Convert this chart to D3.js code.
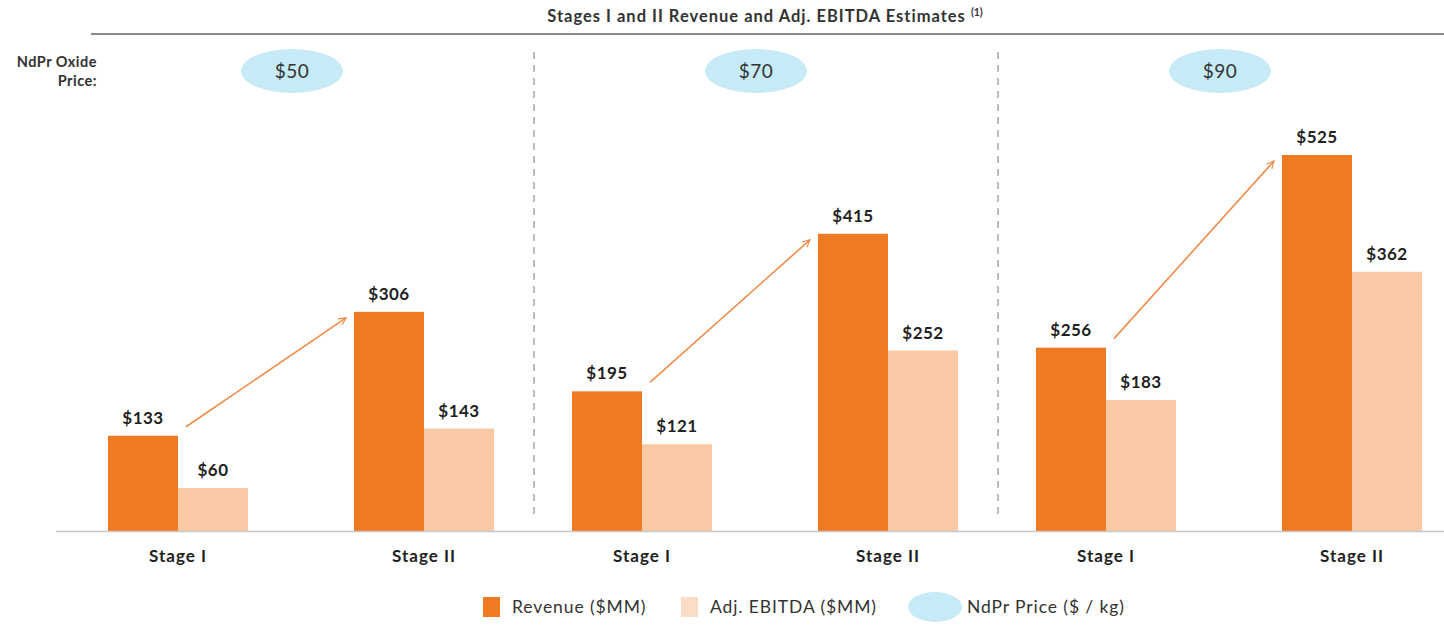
<!DOCTYPE html>
<html>
<head>
<meta charset="utf-8">
<script src="https://cdn.jsdelivr.net/npm/d3@7"></script>
<style>
    body { margin: 0; background: #fff; }
    svg { font-family: "Lato", "Open Sans", sans-serif; }
</style>
</head>
<body>
<svg width="1444" height="626"></svg>
<script>
// data
var prices = ["$50", "$70", "$90"];
var stages = ["Stage I", "Stage II"];
var series = ["Revenue ($MM)", "Adj. EBITDA ($MM)"];
var revenue = [133, 306, 195, 415, 256, 525];
var ebitda = [60, 143, 121, 252, 183, 362];

window.onload = main;

function main() {
    var svg = d3.select("svg");
    var colors = ["#f07a22", "#f9c8a4"];
    var ellipseColor = "#c6ebf6";
    var arrowColor = "#ef8c4a";

    var rows = [];
    prices.forEach(function (p, i) {
        stages.forEach(function (s, j) {
            rows.push({ price: p, stage: s, values: [revenue[i * 2 + j], ebitda[i * 2 + j]] });
        });
    });

    // scales
    var xPanel = d3.scaleBand().domain(prices).range([70, 1462]);
    var xStage = d3.scalePoint().domain(stages).range([108, 354]);
    var xSeries = d3.scaleBand().domain(series).range([-70, 70]);
    var y = d3.scaleLinear().domain([0, 525]).range([531, 155]);

    // title
    var title = svg.append("text")
        .attr("x", 765).attr("y", 22)
        .attr("text-anchor", "middle")
        .attr("font-size", 16.5).attr("font-weight", "bold")
        .attr("letter-spacing", 1)
        .attr("fill", "#333")
        .text("Stages I and II Revenue and Adj. EBITDA Estimates ");
    title.append("tspan")
        .attr("font-size", 10.5).attr("dy", -6)
        .attr("letter-spacing", 0)
        .text("(1)");

    svg.append("line")
        .attr("x1", 91).attr("x2", 1444)
        .attr("y1", 34).attr("y2", 34)
        .attr("stroke", "#8a8a8a").attr("stroke-width", 2);

    // price label
    svg.append("text")
        .attr("x", 97).attr("y", 67)
        .attr("text-anchor", "end")
        .attr("font-size", 14.5).attr("font-weight", "bold").attr("fill", "#333")
        .attr("letter-spacing", 0.5)
        .text("NdPr Oxide")
        .append("tspan")
        .attr("x", 97).attr("dy", "1.3em")
        .text("Price:");

    // dividers
    prices.slice(1).forEach(function (p) {
        svg.append("line")
            .attr("x1", xPanel(p)).attr("x2", xPanel(p))
            .attr("y1", 52).attr("y2", 520)
            .attr("stroke", "#9a9a9a").attr("stroke-width", 1.3)
            .attr("stroke-dasharray", "7,6");
    });

    // price ellipses
    var ell = svg.selectAll("g.price").data(prices).enter()
        .append("g").attr("class", "price")
        .attr("transform", function (d) {
            return "translate(" + (xPanel(d) + 222) + ",71)";
        });
    ell.append("ellipse").attr("rx", 51).attr("ry", 22).attr("fill", ellipseColor);
    ell.append("text")
        .attr("text-anchor", "middle").attr("dy", "0.36em")
        .attr("font-size", 19).attr("letter-spacing", 0.5).attr("fill", "#333")
        .text(function (d) { return d; });

    // arrows
    svg.append("defs").append("marker")
        .attr("id", "arrow")
        .attr("viewBox", "0 0 10 10")
        .attr("refX", 9).attr("refY", 5)
        .attr("markerWidth", 9).attr("markerHeight", 9)
        .attr("markerUnits", "userSpaceOnUse")
        .attr("orient", "auto")
        .append("path")
        .attr("d", "M1,1 L9,5 L1,9")
        .attr("fill", "none").attr("stroke", arrowColor).attr("stroke-width", 1.3);

    prices.forEach(function (p, i) {
        var x0 = xPanel(p) + xStage("Stage I") + 8;
        var y0 = y(revenue[i * 2]) - 9;
        var x1 = xPanel(p) + xStage("Stage II") - 70 - 8;
        var y1 = y(revenue[i * 2 + 1]) + 6;
        svg.append("line")
            .attr("x1", x0).attr("y1", y0).attr("x2", x1).attr("y2", y1)
            .attr("stroke", arrowColor).attr("stroke-width", 1.6)
            .attr("marker-end", "url(#arrow)");
    });

    // bars
    var groups = svg.selectAll("g.grp").data(rows).enter()
        .append("g").attr("class", "grp")
        .attr("transform", function (d) {
            return "translate(" + (xPanel(d.price) + xStage(d.stage)) + ",0)";
        });

    groups.selectAll("rect")
        .data(function (d) { return d.values; })
        .enter().append("rect")
        .attr("x", function (d, i) { return xSeries(series[i]); })
        .attr("width", xSeries.bandwidth())
        .attr("y", function (d) { return y(d); })
        .attr("height", function (d) { return y(0) - y(d); })
        .attr("fill", function (d, i) { return colors[i]; });

    groups.selectAll("text.val")
        .data(function (d) { return d.values; })
        .enter().append("text")
        .attr("class", "val")
        .attr("x", function (d, i) { return xSeries(series[i]) + xSeries.bandwidth() / 2; })
        .attr("y", function (d) { return y(d) - 12; })
        .attr("text-anchor", "middle")
        .attr("font-size", 17).attr("font-weight", "bold").attr("fill", "#222")
        .attr("letter-spacing", 0.5)
        .text(function (d) { return "$" + d; });

    groups.append("text")
        .attr("x", 0).attr("y", 562)
        .attr("text-anchor", "middle")
        .attr("font-size", 17).attr("font-weight", "bold").attr("fill", "#222")
        .attr("letter-spacing", 1)
        .text(function (d) { return d.stage; });

    // baseline
    svg.append("line")
        .attr("x1", 56).attr("x2", 1444)
        .attr("y1", y(0) + 0.5).attr("y2", y(0) + 0.5)
        .attr("stroke", "#c8c8c8").attr("stroke-width", 1.5);

    // legend
    var legend = svg.append("g").attr("class", "legend");
    var legendX = [483, 681];
    series.forEach(function (s, i) {
        legend.append("rect")
            .attr("x", legendX[i]).attr("y", 597)
            .attr("width", 17).attr("height", 20)
            .attr("fill", i === 0 ? colors[0] : "#fbdcc6");
        legend.append("text")
            .attr("x", legendX[i] + 29).attr("y", 607)
            .attr("dy", "0.35em")
            .attr("font-size", 17.5).attr("letter-spacing", 0.9).attr("fill", "#333")
            .text(s);
    });
    legend.append("ellipse")
        .attr("cx", 935).attr("cy", 607)
        .attr("rx", 27).attr("ry", 15)
        .attr("fill", ellipseColor);
    legend.append("text")
        .attr("x", 967).attr("y", 607)
        .attr("dy", "0.35em")
        .attr("font-size", 17.5).attr("letter-spacing", 0.9).attr("fill", "#333")
        .text("NdPr Price ($ / kg)");
}
</script>
</body>
</html>
